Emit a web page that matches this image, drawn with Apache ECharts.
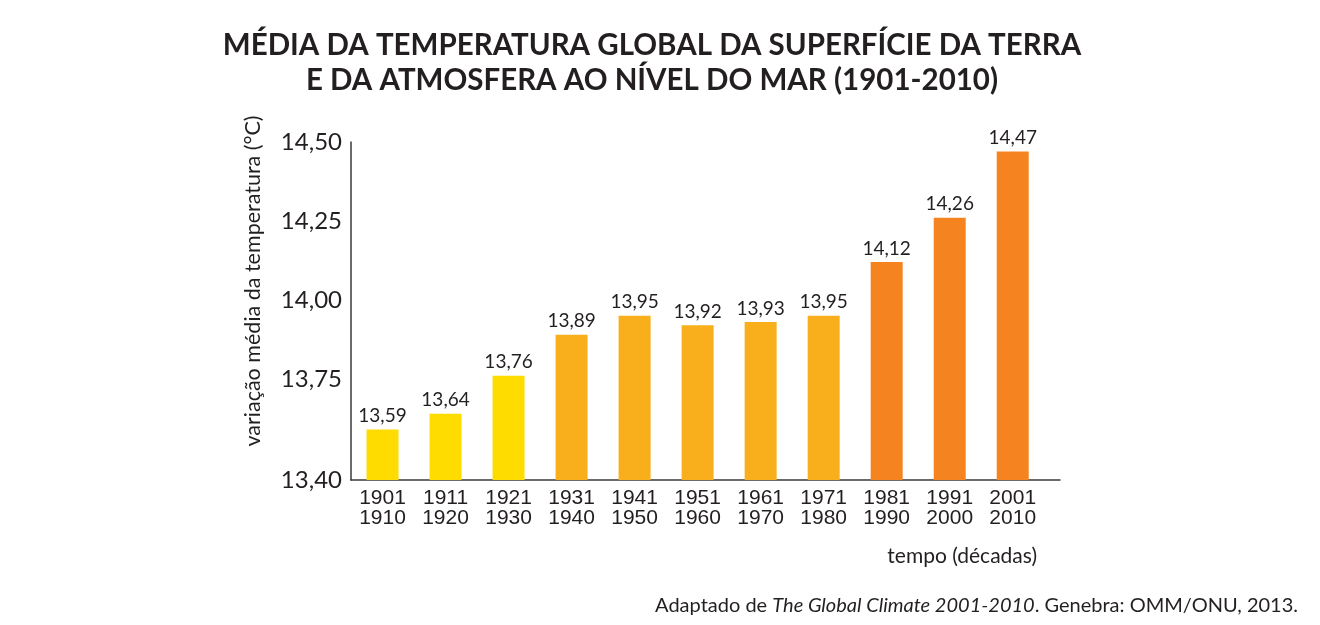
<!DOCTYPE html>
<html>
<head>
<meta charset="utf-8">
<script src="https://cdn.jsdelivr.net/npm/echarts@6/dist/echarts.min.js"></script>
<style>
html, body { margin: 0; padding: 0; background: #fff; }
#main { width: 1320px; height: 625px; }
</style>
</head>
<body>
<div id="main"></div>
<script>
// dados
var decadas = ['1901\n1910', '1911\n1920', '1921\n1930', '1931\n1940', '1941\n1950', '1951\n1960',
	'1961\n1970', '1971\n1980', '1981\n1990', '1991\n2000', '2001\n2010'];
var temperaturas = [13.59, 13.64, 13.76, 13.89, 13.95, 13.92, 13.93, 13.95, 14.12, 14.26, 14.47];
var cores = ['#FFDC00', '#FFDC00', '#FFDC00', '#F9AF1C', '#F9AF1C', '#F9AF1C',
	'#F9AF1C', '#F9AF1C', '#F58420', '#F58420', '#F58420'];
var yTicks = [13.43, 13.75, 14.00, 14.25, 14.50];
var yTickLabels = ['13,40', '13,75', '14,00', '14,25', '14,50'];

var texto = '#231F20';
var fonte = 'Lato, "Noto Sans", sans-serif';

var chart = echarts.init(document.getElementById('main'));

var barData = temperaturas.map(function(v, i) {
	return {
		value: [i, v],
		itemStyle: { color: cores[i] }
	};
});

chart.setOption({
	animation: false,
	backgroundColor: '#fff',
	title: {
		text: 'MÉDIA DA TEMPERATURA GLOBAL DA SUPERFÍCIE DA TERRA\nE DA ATMOSFERA AO NÍVEL DO MAR (1901-2010)',
		left: 647,
		textAlign: 'center',
		top: 23,
		textStyle: {
			fontFamily: fonte,
			fontWeight: 'bold',
			fontSize: 29.5,
			lineHeight: 35,
			color: texto
		}
	},
	grid: {
		left: 351,
		right: 260,
		top: 142,
		bottom: 145
	},
	xAxis: {
		type: 'value',
		min: -0.5,
		max: 10.75,
		splitLine: { show: false },
		axisTick: { show: false },
		axisLine: { show: true, onZero: false, lineStyle: { color: '#3a3a3a', width: 1.5 } },
		axisLabel: {
			customValues: decadas.map(function(d, i) { return i; }),
			formatter: function(v) {
				return decadas[Math.round(v)] || '';
			},
			margin: 8,
			fontFamily: '"Liberation Sans Narrow", "Arial Narrow", sans-serif',
			fontSize: 21,
			lineHeight: 20,
			color: texto,
			showMinLabel: true,
			showMaxLabel: true
		}
	},
	yAxis: {
		type: 'value',
		min: 13.43,
		max: 14.5,
		splitLine: { show: false },
		axisTick: { show: false },
		axisLine: { show: true, onZero: false, lineStyle: { color: '#3a3a3a', width: 1.5 } },
		axisLabel: {
			customValues: yTicks,
			formatter: function(v) {
				var i = yTicks.indexOf(v);
				return i >= 0 ? yTickLabels[i] : '';
			},
			margin: 9,
			fontFamily: fonte,
			fontSize: 24,
			color: texto
		}
	},
	series: [{
		type: 'bar',
		barWidth: 32,
		data: barData,
		label: {
			show: true,
			position: 'top',
			distance: 4,
			fontFamily: fonte,
			fontSize: 19,
			color: texto,
			formatter: function(p) {
				return p.value[1].toFixed(2).replace('.', ',');
			}
		}
	}],
	graphic: [{
		type: 'text',
		x: 253,
		y: 281,
		rotation: Math.PI / 2,
		style: {
			text: 'variação média da temperatura (°C)',
			fontFamily: fonte,
			fontSize: 21.5,
			fill: texto,
			align: 'center',
			verticalAlign: 'middle'
		}
	}, {
		type: 'text',
		x: 1037,
		y: 556,
		style: {
			text: 'tempo (décadas)',
			fontFamily: fonte,
			fontSize: 21,
			fill: texto,
			align: 'right',
			verticalAlign: 'middle'
		}
	}, {
		type: 'text',
		x: 1298,
		y: 606,
		style: {
			text: 'Adaptado de {i|The Global Climate 2001-2010}. Genebra: OMM/ONU, 2013.',
			fontFamily: fonte,
			fontSize: 20,
			fill: texto,
			align: 'right',
			verticalAlign: 'middle',
			rich: {
				i: {
					fontFamily: fonte,
					fontSize: 20,
					fontStyle: 'italic',
					fill: texto
				}
			}
		}
	}]
});
</script>
</body>
</html>
